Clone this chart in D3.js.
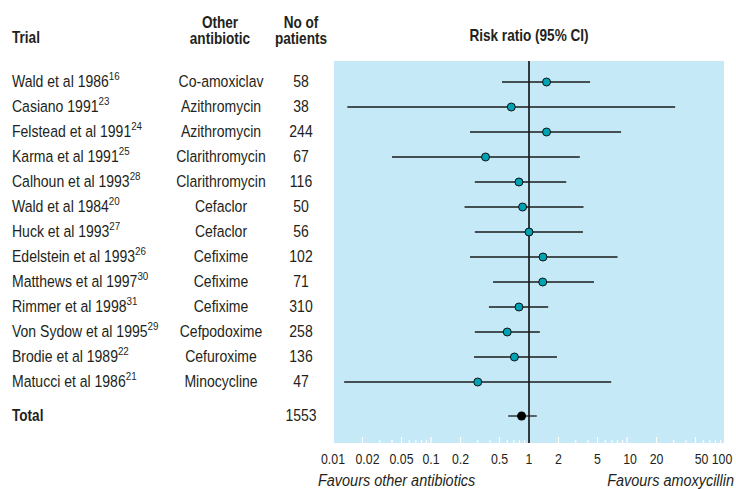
<!DOCTYPE html>
<meta charset="utf-8">
<html>
<head>
	<script src="https://cdn.jsdelivr.net/npm/d3@7"></script>
	<style>
		body { margin: 0; background: #fff; }
		svg { font-family: "Liberation Sans", Arial, sans-serif; }
		.head { font-weight: bold; font-size: 16px; fill: #231f20; }
		.row { font-size: 16.5px; fill: #231f20; }
		.tick-label { font-size: 14.5px; fill: #231f20; }
		.favour { font-size: 17px; font-style: italic; fill: #231f20; }
	</style>
</head>
<body>
<svg id="chart" width="736" height="489"></svg>
<script>
	var trials = ["Wald et al 1986", "Casiano 1991", "Felstead et al 1991", "Karma et al 1991",
		"Calhoun et al 1993", "Wald et al 1984", "Huck et al 1993", "Edelstein et al 1993",
		"Matthews et al 1997", "Rimmer et al 1998", "Von Sydow et al 1995", "Brodie et al 1989",
		"Matucci et al 1986"];
	var refs = ["16", "23", "24", "25", "28", "20", "27", "26", "30", "31", "29", "22", "21"];
	var antibiotics = ["Co-amoxiclav", "Azithromycin", "Azithromycin", "Clarithromycin",
		"Clarithromycin", "Cefaclor", "Cefaclor", "Cefixime", "Cefixime", "Cefixime",
		"Cefpodoxime", "Cefuroxime", "Minocycline"];
	var patients = [58, 38, 244, 67, 116, 50, 56, 102, 71, 310, 258, 136, 47];
	var riskRatio = [1.51, 0.66, 1.51, 0.36, 0.79, 0.86, 1.0, 1.39, 1.38, 0.79, 0.6, 0.71, 0.3];
	var ciLow =     [0.53, 0.014, 0.25, 0.04, 0.28, 0.22, 0.28, 0.25, 0.43, 0.39, 0.28, 0.275, 0.013];
	var ciHigh =    [4.2, 31, 8.7, 3.3, 2.4, 3.6, 3.55, 8.0, 4.6, 1.57, 1.29, 1.93, 6.9];

	var totalPatients = 1553;
	var totalRR = 0.84, totalLow = 0.615, totalHigh = 1.2;

	var tickValues = [0.01, 0.02, 0.05, 0.1, 0.2, 0.5, 1, 2, 5, 10, 20, 50, 100];
	var tickLabels = ["0.01", "0.02", "0.05", "0.1", "0.2", "0.5", "1", "2", "5", "10", "20", "50", "100"];

	var narrow = 0.85; // the original uses a condensed face, squeeze the sans to match

	var svg = d3.select("#chart");

	var x = d3.scaleLog()
		.domain([0.01, 100])
		.range([333, 725]);

	// row centres, trials 0..12, total sits a little lower
	var y = d3.scaleLinear()
		.domain([0, 12])
		.range([82, 382]);
	var totalY = y(13.36);

	var panelTop = 61, panelBottom = 443;

	function label(parent, cls, tx, ty, anchor) {
		return parent.append("text")
			.attr("class", cls)
			.attr("text-anchor", anchor || "start")
			.attr("transform", "translate(" + tx + "," + ty + ") scale(" + narrow + ",1)");
	}

	// blue panel
	svg.append("rect")
		.attr("x", 334)
		.attr("y", panelTop)
		.attr("width", 390)
		.attr("height", panelBottom - panelTop)
		.attr("fill", "#c6e9f8");

	// white minor ticks inside the bottom of the panel
	var minor = [];
	for (var e = -2; e < 2; e++) {
		for (var m = 2; m <= 10; m++) minor.push(m * Math.pow(10, e));
	}
	minor = minor.filter(function(v) { return v < 99 && Math.abs(v - 1) > 1e-9; });
	svg.append("g").selectAll("line")
		.data(minor)
		.enter().append("line")
			.attr("x1", function(d) { return x(d); })
			.attr("x2", function(d) { return x(d); })
			.attr("y1", function(d) {
				var lead = Math.round(d / Math.pow(10, Math.floor(Math.log10(d) + 1e-9)));
				return (lead == 2 || lead == 5 || lead == 1) ? panelBottom - 6 : panelBottom - 3;
			})
			.attr("y2", panelBottom)
			.attr("stroke", "#fff")
			.attr("stroke-width", 1.2);

	// line of no effect
	svg.append("line")
		.attr("x1", x(1)).attr("x2", x(1))
		.attr("y1", panelTop).attr("y2", panelBottom)
		.attr("stroke", "#000")
		.attr("stroke-width", 1.5);

	// tick labels, a few nudged apart like the printed figure
	var nudge = {"0.02": 5, "10": 3, "50": 6, "100": -3};
	tickValues.forEach(function(v, i) {
		label(svg, "tick-label", x(v) + (nudge[tickLabels[i]] || 0), 464, "middle").text(tickLabels[i]);
	});

	label(svg, "favour", 318, 486).text("Favours other antibiotics");
	label(svg, "favour", 734, 486, "end").text("Favours amoxycillin");

	// headers
	label(svg, "head", 12, 43).text("Trial");
	label(svg, "head", 220, 27.5, "middle").text("Other");
	label(svg, "head", 220, 43.5, "middle").text("antibiotic");
	label(svg, "head", 301, 27.5, "middle").text("No of");
	label(svg, "head", 301, 43.5, "middle").text("patients");
	label(svg, "head", x(1), 41, "middle").text("Risk ratio (95% CI)");

	// trial rows
	var g = svg.append("g");
	trials.forEach(function(name, i) {
		var t = label(g, "row", 12, y(i) + 4.5);
		t.append("tspan").text(name);
		t.append("tspan")
			.attr("dy", -7)
			.attr("font-size", "11.5px")
			.text(refs[i]);
		label(g, "row", 221, y(i) + 4.5, "middle").text(antibiotics[i]);
		label(g, "row", 301, y(i) + 4.5, "middle").text(patients[i]);
	});

	g.selectAll("line.ci")
		.data(trials)
		.enter().append("line")
			.attr("class", "ci")
			.attr("x1", function(d, i) { return x(ciLow[i]); })
			.attr("x2", function(d, i) { return x(ciHigh[i]); })
			.attr("y1", function(d, i) { return y(i); })
			.attr("y2", function(d, i) { return y(i); })
			.attr("stroke", "#1a1a1a")
			.attr("stroke-width", 1.3);

	g.selectAll("circle")
		.data(trials)
		.enter().append("circle")
			.attr("cx", function(d, i) { return x(riskRatio[i]); })
			.attr("cy", function(d, i) { return y(i); })
			.attr("r", 4)
			.attr("fill", "#00a3b4")
			.attr("stroke", "#111")
			.attr("stroke-width", 1);

	// total
	label(svg, "head", 12, totalY + 4.5).text("Total");
	label(svg, "row", 301, totalY + 4.5, "middle").text(totalPatients);
	svg.append("line")
		.attr("x1", x(totalLow)).attr("x2", x(totalHigh))
		.attr("y1", totalY).attr("y2", totalY)
		.attr("stroke", "#1a1a1a").attr("stroke-width", 1.3);
	svg.append("circle")
		.attr("cx", x(totalRR)).attr("cy", totalY)
		.attr("r", 4.5)
		.attr("fill", "#000");
</script>
</body>
</html>
